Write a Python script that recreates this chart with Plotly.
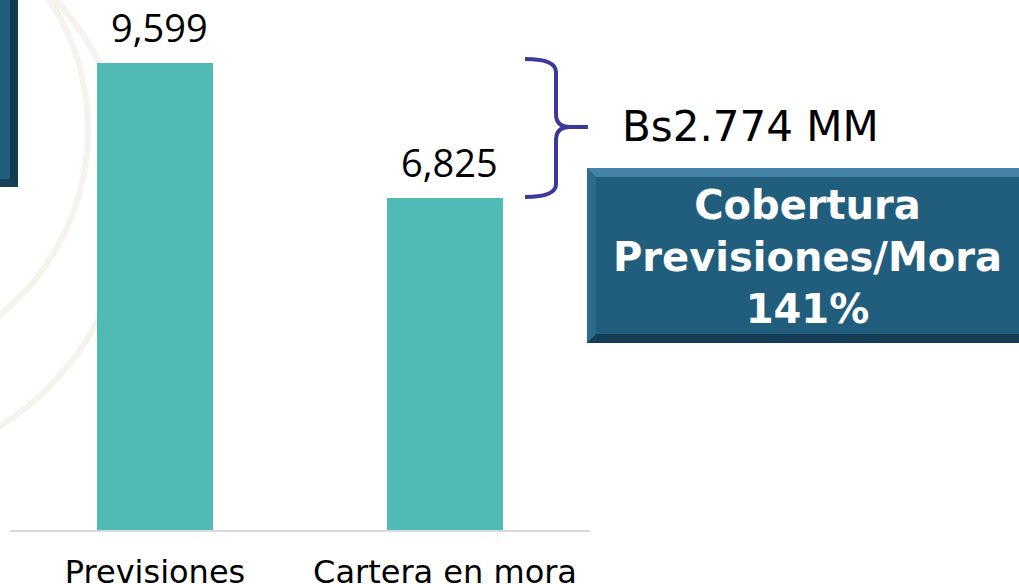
import plotly.graph_objects as go

# ---- data ----
categories = ["Previsiones", "Cartera en mora"]
values = [9599, 6825]
bar_color = "#50BAB4"

diff = values[0] - values[1]
ratio = values[0] / values[1]
diff_label = "Bs" + f"{diff:,}".replace(",", ".") + " MM"
box_lines = ["Cobertura", "Previsiones/Mora", f"{ratio*100:.0f}%"]

# ---- layout geometry (pixels) ----
W, H = 1019, 584
PL, PR, PT, PB = 10, 590, 0, 530


def fx(px):
    return (px - PL) / (PR - PL)


def fy(py):
    return (PB - py) / (PB - PT)


ymax = values[0] * (PB - PT) / 467.0

fig = go.Figure()
fig.add_trace(go.Bar(x=categories, y=values, marker=dict(color=bar_color, line=dict(width=0)),
                     hoverinfo="skip"))

# value labels
for c, v in zip(categories, values):
    fig.add_annotation(x=c, y=v, text=f"{v:,}", showarrow=False, yanchor="bottom",
                       yshift=8, xshift=4,
                       font=dict(family="Open Sans", size=38, color="#000000"))

shapes = []
# faint watermark arcs
for (cx, cy, r) in [(-150, 190, 280), (-150, 130, 238)]:
    shapes.append(dict(type="circle", xref="paper", yref="paper",
                       x0=fx(cx - r), x1=fx(cx + r), y0=fy(cy + r), y1=fy(cy - r),
                       line=dict(color="#F6F3EC", width=6), layer="below"))


def poly(pts, color):
    d = "M " + " L ".join(f"{fx(x):.5f},{fy(y):.5f}" for x, y in pts) + " Z"
    return dict(type="path", xref="paper", yref="paper", path=d, fillcolor=color,
                line=dict(width=0), layer="above")


# right box with bevel
bx0, by0, bx1, by1, bv = 587, 168, 1030, 343, 9
shapes.append(poly([(bx0, by0), (bx1, by0), (bx1, by1), (bx0, by1)], "#215E7E"))
shapes.append(poly([(bx0, by0), (bx1, by0), (bx1, by0 + bv), (bx0 + bv, by0 + bv)], "#4483A3"))
shapes.append(poly([(bx0, by1), (bx1, by1), (bx1, by1 - bv), (bx0 + bv, by1 - bv)], "#143C53"))
shapes.append(poly([(bx0, by0), (bx0 + bv, by0 + bv), (bx0 + bv, by1 - bv), (bx0, by1)], "#2D6B8B"))

# top-left box with bevel
tx0, ty0, tx1, ty1, tv = -10, -10, 18, 187, 8
shapes.append(poly([(tx0, ty0), (tx1, ty0), (tx1, ty1), (tx0, ty1)], "#215E7E"))
shapes.append(poly([(tx1, ty0), (tx1, ty1), (tx1 - tv, ty1 - tv), (tx1 - tv, ty0)], "#123A50"))
shapes.append(poly([(tx0, ty1), (tx1, ty1), (tx1 - tv, ty1 - tv), (tx0, ty1 - tv)], "#163F57"))

# brace
p = lambda x, y: f"{fx(x):.5f},{fy(y):.5f}"
brace = (f"M {p(525,59)} Q {p(556,59)} {p(556,72)} L {p(556,114)} "
         f"Q {p(556,127)} {p(570,127)} L {p(588,127)} "
         f"M {p(570,127)} Q {p(556,127)} {p(556,140)} L {p(556,184)} "
         f"Q {p(556,197)} {p(525,197)}")
shapes.append(dict(type="path", xref="paper", yref="paper", path=brace,
                   line=dict(color="#3A3A9C", width=4), layer="above"))

fig.update_layout(shapes=shapes)

fig.add_annotation(xref="paper", yref="paper", x=fx(750), y=fy(127), text=diff_label,
                   showarrow=False, xanchor="center", yanchor="middle",
                   font=dict(family="DejaVu Sans", size=42, color="#000000"))
fig.add_annotation(xref="paper", yref="paper", x=fx(807), y=fy(257),
                   text="<br>".join(f"<b>{t}</b>" for t in box_lines),
                   showarrow=False, xanchor="center", yanchor="middle", align="center",
                   font=dict(family="DejaVu Sans", size=40, color="#FFFFFF"))

fig.update_layout(
    width=W, height=H,
    margin=dict(l=PL, r=W - PR, t=PT, b=H - PB, autoexpand=False),
    paper_bgcolor="#FFFFFF", plot_bgcolor="rgba(0,0,0,0)",
    bargap=0.6, showlegend=False,
    xaxis=dict(showline=True, linecolor="#D9D9D9", linewidth=2, showgrid=False,
               ticks="", automargin=False, zeroline=False,
               tickfont=dict(family="DejaVu Sans", size=32, color="#000000"),
               ticklabelstandoff=13),
    yaxis=dict(range=[0, ymax], visible=False, showgrid=False, zeroline=False,
               automargin=False, fixedrange=True),
)

fig.write_html("out.html", config={"displayModeBar": False},
               post_script="document.body.style.margin='0';document.body.style.overflow='hidden';")
